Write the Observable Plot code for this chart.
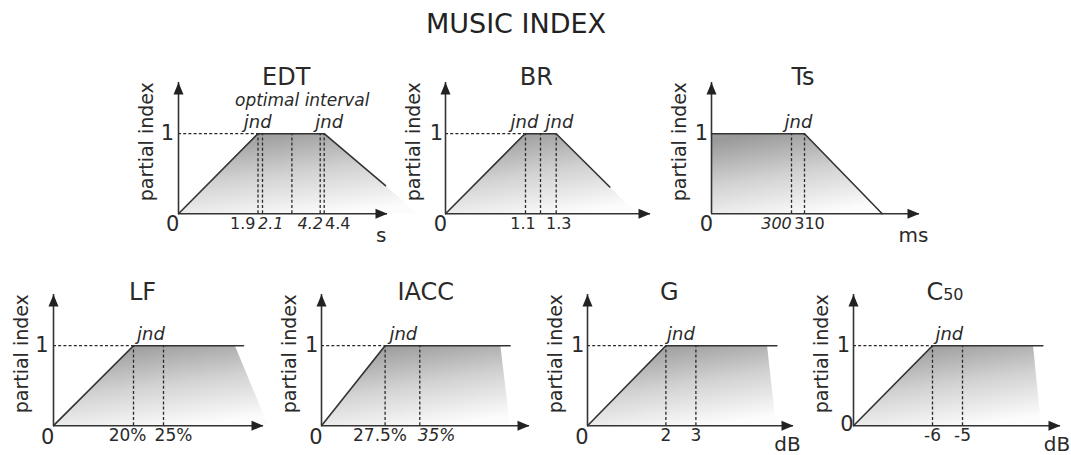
<!DOCTYPE html>
<html><head><meta charset="utf-8">
<script src="https://cdn.jsdelivr.net/npm/d3@7"></script>
<script src="https://cdn.jsdelivr.net/npm/@observablehq/plot@0.6"></script>
<style>
html,body{margin:0;padding:0;background:#fff;}
body{font-family:"DejaVu Sans",Verdana,sans-serif;}
#wrap{position:relative;width:1071px;height:455px;overflow:hidden;background:#fff;}
#title{position:absolute;left:0;top:10px;width:1032px;text-align:center;font-size:27px;line-height:27px;color:#222;}
</style></head><body>
<svg width="0" height="0" style="position:absolute"><defs>
<linearGradient id="fade" x1="0.3" y1="0" x2="0.65" y2="1">
<stop offset="0" stop-color="#9a9a9a"/><stop offset="0.5" stop-color="#d2d2d2"/><stop offset="1" stop-color="#fcfcfc"/>
</linearGradient></defs></svg>
<div id="wrap"><div id="title">MUSIC INDEX</div></div>
<script>
// ---------- data (schematic axis units; y: partial index, 1 = optimum) ----------
const titles = ["EDT", "BR", "Ts", "LF", "IACC", "G", "C"];
const titleSubs = ["", "", "", "", "", "", "50"];
const unitLabels = ["s", "", "ms", "", "", "dB", "dB"];
const axisEnd = [209, 205, 208, 210, 208, 206, 207];
const curveX = [[0, 79.5, 145.7, 207], [0, 79.5, 110.7, 164.3], [0, 93, 170.7], [0, 80, 190], [0, 63.6, 188.6], [0, 78.4, 189.4], [0, 79, 189.4]];
const curveY = [[0, 1, 1, 0.35], [0, 1, 1, 0.334], [1, 1, 0], [0, 1, 1], [0, 1, 1], [0, 1, 1], [0, 1, 1]];
const fillX = [[0, 79.5, 145.7, 239.5], [0, 79.5, 110.7, 191.2], [0, 0, 93, 170.7], [0, 80, 181.7, 215], [0, 63.6, 179.3, 189], [0, 78.4, 180, 189], [0, 79, 180, 188]];
const fillY = [[0, 1, 1, 0], [0, 1, 1, 0], [0, 1, 1, 0], [0, 1, 1, 0], [0, 1, 1, 0], [0, 1, 1, 0], [0, 1, 1, 0]];
const dashX = [[79.5, 84, 113.4, 141.7, 145.7], [80, 95, 110.7], [80, 93], [80, 110], [63.6, 98.3], [78.4, 108.4], [79, 109]];
const tickLabels = [["1.9", "2.1", "4.2", "4.4"], ["1.1", "1.3"], ["300", "310"], ["20%", "25%"], ["27.5%", "35%"], ["2", "3"], ["-6", "-5"]];
const tickX = [[64.2, 92.2, 131.7, 159.2], [77.5, 113.3], [65, 98], [74, 120], [58.5, 115.1], [78.4, 108.4], [79, 109]];
const tickItalic = [[0, 1, 1, 0], [0, 0], [1, 0], [0, 0], [0, 1], [0, 0], [0, 0]];
const jndX = [[79.2, 150.7], [79, 114], [87], [97.5], [81.8], [93.5], [95.8]];
const noteText = ["optimal interval", "", "", "", "", "", ""];
const noteX = [123.7, 0, 0, 0, 0, 0, 0];
const titleX = [107.7, 90.8, 91.5, 89, 104.3, 81.8, 89.7];
const unitX = [202.7, 0, 202, 0, 0, 200, 203.4];

// ---------- layout ----------
const origins = [[178.3, 212.7], [445, 212.7], [711, 212.7], [53.3, 425], [320.7, 425], [587.3, 425], [853.3, 425]];
const zeroDy = [17.3, 17.3, 17.3, 18.3, 18.3, 18.3, 5];
const zeroDx = [-5.8, -5, -5, -5.8, -5.7, -5.6, -6.6];
const oneDx = [-11, -9, -10, -11.6, -9.9, -9.8, -10];
const YTOP = 1.64, PXY = 80, ML = 52, MR = 32, MT = 30, MB = 40;
const INK = "#2a2a2a";
const wrap = document.getElementById("wrap");

titles.forEach((t, i) => {
  const topRow = i < 3;
  const W = ML + axisEnd[i] + MR, H = MT + YTOP * PXY + MB;
  const fIdx = d3.range(fillX[i].length), cIdx = d3.range(curveX[i].length);
  const kIdx = curveY[i].indexOf(1);
  const knee = curveX[i][kIdx];
  const ticks = tickLabels[i].map((l, j) => ({l, x: tickX[i][j], it: tickItalic[i][j]}));
  const marks = [
    Plot.area(fIdx, {x1: j => fillX[i][j], y1: () => 0, y2: j => fillY[i][j], fill: "url(#fade)", curve: "linear"}),
    Plot.line(cIdx, {x: j => curveX[i][j], y: j => curveY[i][j], stroke: "#333", strokeWidth: 1.6}),
    Plot.ruleX(dashX[i], {y1: 0, y2: 1, stroke: INK, strokeWidth: 1.3, strokeDasharray: "3,2.2"}),
    knee > 0 ? Plot.ruleY([1], {x1: 0, x2: knee, stroke: INK, strokeWidth: 1.3, strokeDasharray: "3,2.2"}) : null,
    Plot.ruleX([0], {y1: 0, y2: YTOP, stroke: "#333", strokeWidth: 1.6}),
    Plot.ruleY([0], {x1: 0, x2: axisEnd[i], stroke: "#333", strokeWidth: 1.6}),
    Plot.vector([[0, YTOP, 0], [axisEnd[i], 0, 90]], {x: d => d[0], y: d => d[1], rotate: d => d[2], length: 12, r: 5, shape: "spike", anchor: "end", fill: "#222", stroke: "none"}),
    Plot.text(["partial index"], {x: 0, y: 0.9, dx: -32, rotate: -90, fontSize: 19, fill: INK, lineAnchor: "middle"}),
    Plot.text(["0"], {x: 0, y: 0, dx: zeroDx[i], dy: zeroDy[i], fontSize: 21, fill: INK, lineAnchor: "bottom"}),
    Plot.text(["1"], {x: 0, y: 1, dx: oneDx[i], fontSize: 21, fill: INK, lineAnchor: "middle"}),
    Plot.text([t], {x: titleX[i], y: topRow ? 1.61 : 1.57, fontSize: 24, fill: INK, lineAnchor: "bottom", textAnchor: titleSubs[i] ? "end" : "middle"}),
    titleSubs[i] ? Plot.text([titleSubs[i]], {x: titleX[i], y: 1.57, fontSize: 16, fill: INK, lineAnchor: "bottom", textAnchor: "start"}) : null,
    Plot.text(ticks.filter(d => !d.it), {x: "x", y: 0, text: "l", dy: topRow ? 15.6 : 15.7, fontSize: topRow ? 16 : 17, fill: INK, lineAnchor: "bottom"}),
    Plot.text(ticks.filter(d => d.it), {x: "x", y: 0, text: "l", dy: topRow ? 15.6 : 15.7, fontSize: topRow ? 16 : 17, fontStyle: "italic", fill: INK, lineAnchor: "bottom"}),
    Plot.text(jndX[i], {x: d => d, y: 1, text: () => "jnd", dy: -6, fontSize: 18, fontStyle: "italic", fill: INK, lineAnchor: "bottom"}),
    noteText[i] ? Plot.text([noteText[i]], {x: noteX[i], y: 1, dy: -28, fontSize: 17, fontStyle: "italic", fill: INK, lineAnchor: "bottom"}) : null,
    unitLabels[i] ? Plot.text([unitLabels[i]], {x: unitX[i], y: 0, dy: topRow ? 28 : 25, fontSize: 20, fill: INK, lineAnchor: "bottom"}) : null
  ].filter(Boolean);
  const svg = Plot.plot({
    width: W, height: H, marginLeft: ML, marginRight: MR, marginTop: MT, marginBottom: MB,
    x: {domain: [0, axisEnd[i]], axis: null},
    y: {domain: [0, YTOP], axis: null},
    style: {background: "transparent", overflow: "visible", fontFamily: "'DejaVu Sans', Verdana, sans-serif"},
    marks
  });
  svg.style.position = "absolute";
  svg.style.left = (origins[i][0] - ML) + "px";
  svg.style.top = (origins[i][1] - YTOP * PXY - MT) + "px";
  svg.style.maxWidth = "none";
  wrap.appendChild(svg);
});
</script>
</body></html>
